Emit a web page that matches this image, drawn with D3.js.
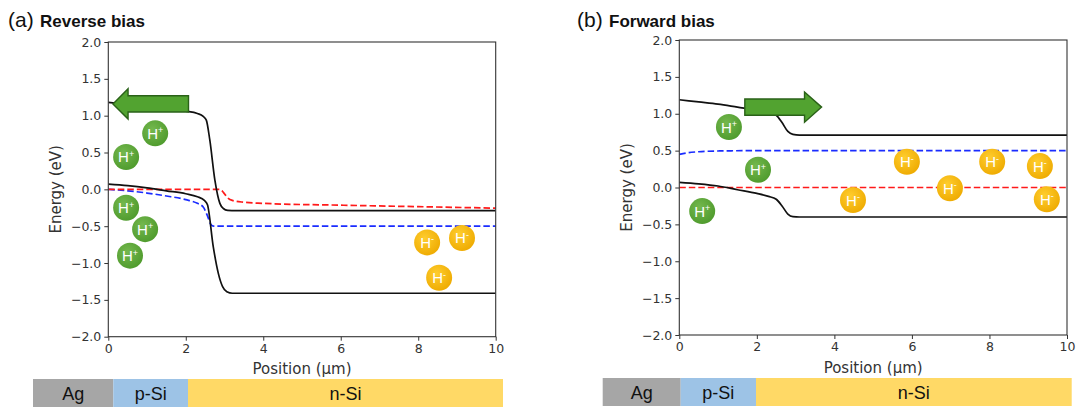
<!DOCTYPE html>
<html>
<head>
<meta charset="utf-8">
<script src="https://cdn.jsdelivr.net/npm/d3@7"></script>
<style>
  body { margin: 0; background: #fff; }
  svg { display: block; }
  .tick text { font-family: "DejaVu Sans", sans-serif; font-size: 12.5px; fill: #333; }
  .axis-title { font-family: "DejaVu Sans", sans-serif; font-size: 15px; fill: #333; }
  .panel-letter { font-family: "Liberation Sans", Arial, sans-serif; font-size: 21px; fill: #111; }
  .panel-title { font-family: "Liberation Sans", Arial, sans-serif; font-size: 17px; font-weight: bold; fill: #111; }
  .layer-label { font-family: "Liberation Sans", Arial, sans-serif; font-size: 18px; fill: #111; }
  .ion { font-family: "Liberation Sans", Arial, sans-serif; font-size: 15px; fill: #fff; }
</style>
</head>
<body>
<div id="chart"></div>
<script>
// -------------------------------------------------------------------------
// Data

const xTicks = [0, 2, 4, 6, 8, 10];
const yTicks = [2.0, 1.5, 1.0, 0.5, 0.0, -0.5, -1.0, -1.5, -2.0];

const layerNames = ['Ag', 'p-Si', 'n-Si'];
const layerColors = ['#a6a6a6', '#9dc3e6', '#ffd966'];

// (a) reverse bias, [position µm, energy eV]
const revConduction = [[0, 1.18], [0.5, 1.15], [1, 1.12], [1.5, 1.09], [2, 1.06], [2.3, 1.03], [2.45, 0.99], [2.53, 0.94],
  [2.62, 0.67], [2.75, 0.13], [2.88, -0.19], [2.97, -0.26], [3.08, -0.285], [3.3, -0.29], [10, -0.29]];
const revValence = [[0, 0.07], [0.5, 0.05], [1, 0.02], [1.5, -0.02], [2, -0.06], [2.3, -0.1], [2.48, -0.15], [2.56, -0.21],
  [2.71, -0.78], [2.84, -1.14], [2.95, -1.32], [3.06, -1.39], [3.2, -1.41], [10, -1.41]];
const revFermiN = [[0, 0], [2.88, 0], [2.97, -0.04], [3.07, -0.11], [3.2, -0.15], [3.5, -0.175], [4, -0.19], [6, -0.215], [8, -0.235], [10, -0.255]];
const revFermiP = [[0, 0], [0.5, -0.02], [1, -0.05], [1.5, -0.09], [2, -0.14], [2.3, -0.19], [2.45, -0.24], [2.56, -0.36],
  [2.64, -0.47], [2.72, -0.5], [10, -0.5]];
const revHplus = [[1.21, 0.76], [0.46, 0.44], [0.46, -0.25], [0.95, -0.54], [0.56, -0.9]];
const revHminus = [[8.23, -0.72], [9.13, -0.66], [8.54, -1.2]];
const revArrow = { from: 2.07, to: 0.12, head: 0.51, y: 1.16 };

// (b) forward bias
const fwdConduction = [[0, 1.19], [0.5, 1.16], [1, 1.13], [1.5, 1.09], [2, 1.05], [2.3, 1.02], [2.5, 0.98], [2.65, 0.88],
  [2.8, 0.76], [2.93, 0.72], [3.1, 0.71], [10, 0.71]];
const fwdValence = [[0, 0.07], [0.5, 0.05], [1, 0.02], [1.5, -0.03], [2, -0.08], [2.3, -0.12], [2.5, -0.16], [2.65, -0.25],
  [2.8, -0.36], [2.93, -0.395], [3.1, -0.4], [10, -0.4]];
const fwdFermiN = [[0, 0], [10, 0]];
const fwdFermiP = [[0, 0.45], [0.2, 0.47], [0.5, 0.485], [1, 0.495], [2, 0.5], [10, 0.5]];
const fwdHplus = [[1.28, 0.82], [2.03, 0.24], [0.59, -0.32]];
const fwdHminus = [[5.87, 0.35], [8.07, 0.35], [9.3, 0.29], [6.98, -0.01], [4.48, -0.17], [9.48, -0.16]];
const fwdArrow = { from: 1.69, to: 3.67, head: 3.23, y: 1.09 };

// -------------------------------------------------------------------------
// Setup

const svg = d3.select('#chart').append('svg')
  .attr('width', 1076)
  .attr('height', 409);

const defs = svg.append('defs');

function radial(id, inner, outer) {
  const g = defs.append('radialGradient').attr('id', id)
    .attr('cx', '40%').attr('cy', '35%').attr('r', '70%');
  g.append('stop').attr('offset', '0%').attr('stop-color', inner);
  g.append('stop').attr('offset', '100%').attr('stop-color', outer);
}
radial('gradPlus', '#74b84e', '#4e9a2c');
radial('gradMinus', '#ffcd2e', '#eeaa00');

// -------------------------------------------------------------------------
// Methods

function drawPanel(opt) {
  const x = d3.scaleLinear().domain([0, 10]).range([opt.left, opt.right]);
  const y = d3.scaleLinear().domain([-2, 2]).range([opt.bottom, opt.top]);
  const g = svg.append('g');

  // panel title
  g.append('text').attr('class', 'panel-letter')
    .attr('x', opt.letterX).attr('y', 27).text(opt.letter);
  g.append('text').attr('class', 'panel-title')
    .attr('x', opt.titleX).attr('y', 27).text(opt.title);

  const line = d3.line()
    .x(d => x(d[0]))
    .y(d => y(d[1]))
    .curve(d3.curveMonotoneX);

  const clip = 'clip' + opt.letter.replace(/\W/g, '');
  defs.append('clipPath').attr('id', clip)
    .append('rect')
    .attr('x', opt.left).attr('y', opt.top)
    .attr('width', opt.right - opt.left).attr('height', opt.bottom - opt.top);

  const plot = g.append('g').attr('clip-path', `url(#${clip})`);

  plot.append('path').attr('d', line(opt.fermiP))
    .attr('fill', 'none').attr('stroke', '#1a2cff').attr('stroke-width', 1.7).attr('stroke-dasharray', '6.5,3');
  plot.append('path').attr('d', line(opt.fermiN))
    .attr('fill', 'none').attr('stroke', '#ff1a1a').attr('stroke-width', 1.7).attr('stroke-dasharray', '6.5,3');
  [opt.conduction, opt.valence].forEach(function(d) {
    plot.append('path').attr('d', line(d))
      .attr('fill', 'none').attr('stroke', '#111').attr('stroke-width', 1.7);
  });

  // axes
  g.append('g')
    .attr('transform', `translate(0,${opt.bottom})`)
    .call(d3.axisBottom(x).tickValues(xTicks).tickSize(4).tickPadding(3).tickFormat(d3.format('d')))
    .call(a => a.select('.domain').remove());
  g.append('g')
    .attr('transform', `translate(${opt.left},0)`)
    .call(d3.axisLeft(y).tickValues(yTicks).tickSize(4).tickPadding(3)
      .tickFormat(d => d3.format('.1f')(d).replace('-', '\u2212')))
    .call(a => a.select('.domain').remove());
  g.selectAll('.tick line').attr('stroke', '#333');

  g.append('rect')
    .attr('x', opt.left).attr('y', opt.top)
    .attr('width', opt.right - opt.left).attr('height', opt.bottom - opt.top)
    .attr('fill', 'none').attr('stroke', '#333').attr('stroke-width', 1.1);

  g.append('text').attr('class', 'axis-title')
    .attr('text-anchor', 'middle')
    .attr('transform', `translate(${opt.left - 53},${(opt.top + opt.bottom) / 2}) rotate(-90)`)
    .attr('dy', '0.35em')
    .text('Energy (eV)');
  g.append('text').attr('class', 'axis-title')
    .attr('text-anchor', 'middle')
    .attr('x', (opt.left + opt.right) / 2).attr('y', opt.bottom + 37.5)
    .text('Position (\u00b5m)');

  // arrow
  const a = opt.arrow;
  const bh = 0.11, hh = 0.205;
  const pts = [[a.from, a.y + bh], [a.head, a.y + bh], [a.head, a.y + hh], [a.to, a.y],
    [a.head, a.y - hh], [a.head, a.y - bh], [a.from, a.y - bh]];
  g.append('path')
    .attr('d', d3.line().x(d => x(d[0])).y(d => y(d[1]))(pts) + 'Z')
    .attr('fill', '#52a330').attr('stroke', '#2a6218').attr('stroke-width', 1.4)
    .attr('stroke-linejoin', 'miter');

  // ions
  function ions(data, grad, sign) {
    const ion = g.selectAll(null).data(data).enter().append('g')
      .attr('transform', d => `translate(${x(d[0])},${y(d[1])})`);
    ion.append('circle').attr('r', 13).attr('fill', `url(#${grad})`);
    const t = ion.append('text').attr('class', 'ion')
      .attr('text-anchor', 'middle').attr('x', 0).attr('y', 5.5);
    t.append('tspan').text('H');
    t.append('tspan').attr('font-size', '9px').attr('dy', -5.5).text(sign);
  }
  ions(opt.hplus, 'gradPlus', '+');
  ions(opt.hminus, 'gradMinus', '-');

  // layer strip
  const strip = g.append('g');
  opt.layers.forEach(function(b, i) {
    strip.append('rect')
      .attr('x', b[0]).attr('y', opt.stripY)
      .attr('width', b[1] - b[0]).attr('height', 28)
      .attr('fill', layerColors[i]);
    strip.append('text').attr('class', 'layer-label')
      .attr('text-anchor', 'middle')
      .attr('x', (b[0] + b[1]) / 2).attr('y', opt.stripY + 20.5)
      .text(layerNames[i]);
  });
}

drawPanel({
  letter: '(a)', title: 'Reverse bias', letterX: 8, titleX: 40,
  left: 108.3, right: 495.7, top: 42, bottom: 336.7,
  conduction: revConduction, valence: revValence, fermiN: revFermiN, fermiP: revFermiP,
  hplus: revHplus, hminus: revHminus, arrow: revArrow,
  layers: [[33, 113.3], [113.3, 188], [188, 503]], stripY: 379
});

drawPanel({
  letter: '(b)', title: 'Forward bias', letterX: 577, titleX: 609,
  left: 679.3, right: 1067, top: 40, bottom: 335,
  conduction: fwdConduction, valence: fwdValence, fermiN: fwdFermiN, fermiP: fwdFermiP,
  hplus: fwdHplus, hminus: fwdHminus, arrow: fwdArrow,
  layers: [[602.7, 680.7], [680.7, 756], [756, 1071.7]], stripY: 378
});
</script>
</body>
</html>
